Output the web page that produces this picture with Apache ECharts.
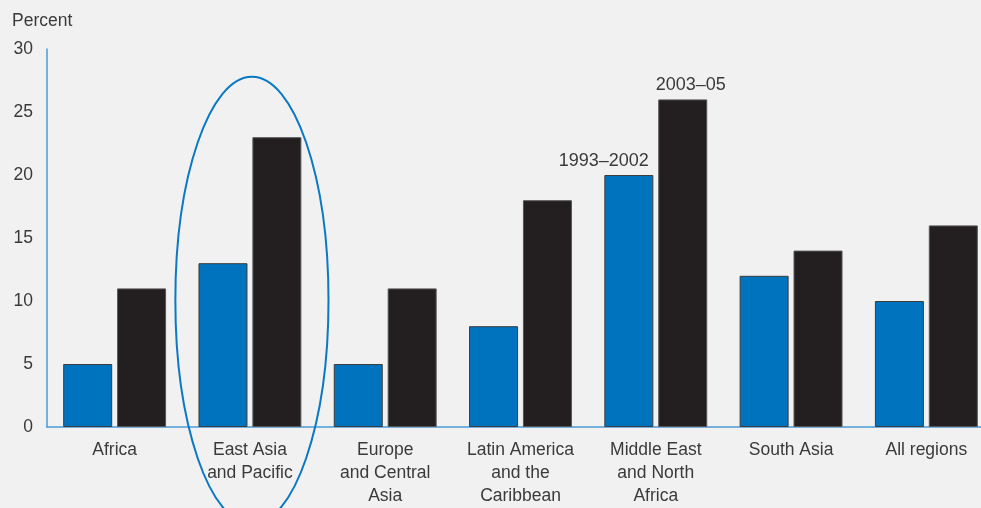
<!DOCTYPE html>
<html>
<head>
<meta charset="utf-8">
<script src="https://cdn.jsdelivr.net/npm/echarts@6/dist/echarts.min.js"></script>
<style>
html,body{margin:0;padding:0;background:#f1f1f1;overflow:hidden;width:981px;height:508px;}
#chart{width:994px;height:508px;}
</style>
</head>
<body>
<div id="chart"></div>
<script>
const categories = ['Africa', 'East Asia\nand Pacific', 'Europe\nand Central\nAsia', 'Latin America\nand the\nCaribbean', 'Middle East\nand North\nAfrica', 'South Asia', 'All regions'];
const series1993 = [5, 13, 5, 8, 20, 12, 10];
const series2003 = [11, 23, 11, 18, 26, 14, 16];
const seriesNames = ['1993–2002', '2003–05'];
const labelCategoryIndex = 4;
const highlightCategory = 1;
const yTicks = [0, 5, 10, 15, 20, 25, 30];

const FONT = 'Liberation Sans, Arial, sans-serif';
const TEXT = '#3a3a3a';

function withLabel(values, idx, name, offset) {
  return values.map((v, i) => i === idx ? {
    value: v,
    label: { show: true, position: 'top', formatter: name, offset: offset, distance: 5,
             color: TEXT, fontSize: 18, fontFamily: FONT }
  } : v);
}

const chart = echarts.init(document.getElementById('chart'));
chart.setOption({
  backgroundColor: '#f1f1f1',
  animation: false,
  title: { text: 'Percent', left: 7, top: 7,
           textStyle: { fontSize: 17.5, fontWeight: 'normal', color: TEXT, fontFamily: FONT } },
  grid: { left: 47, right: 0, top: 49, bottom: 80, containLabel: false },
  xAxis: {
    type: 'category', data: categories,
    axisLine: { show: true, lineStyle: { color: '#4a9ad6', width: 1.5 } },
    axisTick: { show: false },
    axisLabel: { color: TEXT, fontSize: 17.5, fontFamily: FONT, lineHeight: 23, margin: 12, interval: 0 }
  },
  yAxis: {
    type: 'value', min: 0, max: 30, interval: 5,
    axisLine: { show: true, lineStyle: { color: '#4a9ad6', width: 1.5 } },
    axisTick: { show: false },
    splitLine: { show: false },
    axisLabel: { color: TEXT, fontSize: 17.5, fontFamily: FONT, margin: 14, padding: [0, 0, 12, 0],
                 formatter: v => yTicks.includes(v) ? String(v) : '' }
  },
  series: [
    { name: seriesNames[0], type: 'bar', barWidth: 49, barGap: '10%',
      data: withLabel(series1993, labelCategoryIndex, seriesNames[0], [-25, 0]),
      itemStyle: { color: '#0073bf', borderColor: '#3c3c3c', borderWidth: 1 } },
    { name: seriesNames[1], type: 'bar', barWidth: 49,
      data: withLabel(series2003, labelCategoryIndex, seriesNames[1], [8, 0]),
      itemStyle: { color: '#231f20', borderColor: '#555', borderWidth: 1 } },
    { type: 'custom', clip: false, silent: true, z: 10,
      data: [[highlightCategory, 10.05]],
      renderItem: function (params, api) {
        const c = api.coord([api.value(0), api.value(1)]);
        const band = api.size([1, 0])[0];
        const unit = api.size([0, 1])[1];
        return { type: 'ellipse',
          shape: { cx: c[0] + 2, cy: c[1], rx: band * 0.566, ry: unit * 17.75 },
          style: { fill: null, stroke: '#0a78c2', lineWidth: 2 } };
      } }
  ]
});
</script>
</body>
</html>
